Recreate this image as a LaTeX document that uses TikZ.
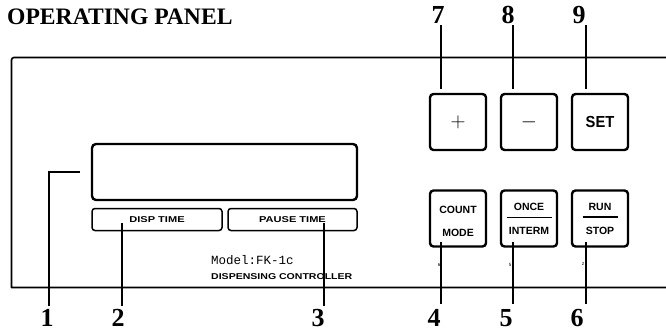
\documentclass[tikz,border=0pt]{standalone}
\usepackage{fontspec}
\setmainfont{Liberation Serif}
\setsansfont{Liberation Sans}
\newfontfamily\monofont{Liberation Mono}
\begin{document}
\begin{tikzpicture}[x=1pt,y=-1pt,
  panel/.style={line width=1.6pt,line join=round},
  leader/.style={line width=1.8pt},
  keybox/.style={draw,line width=2.4pt,rounded corners=3.5pt,minimum width=56pt,minimum height=56pt,inner sep=0pt},
  tabbox/.style={draw,line width=1.5pt,rounded corners=3pt,minimum height=22pt,inner sep=0pt},
  keytext/.style={font=\sffamily\bfseries\fontsize{10.5}{12}\selectfont,align=center},
  tabtext/.style={font=\sffamily\bfseries\fontsize{8.5}{9}\selectfont},
  digit/.style={font=\bfseries\fontsize{26}{26}\selectfont,anchor=base,inner sep=0pt},
  tiny/.style={font=\sffamily\fontsize{4.5}{5}\selectfont,inner sep=0pt}]
\useasboundingbox (0,0) rectangle (666,331);

% title
\node[anchor=base west,inner sep=0pt,font=\bfseries\fontsize{23.6}{24}\selectfont] (title) at (7,25) {OPERATING PANEL};

% panel outline
\draw[panel] (666,57.5) -- (14,57.5) to[out=180,in=90] (11.5,60) -- (11.5,287.5) -- (666,287.5);

% display and tabs
\node[draw,line width=2.4pt,rounded corners=4pt,minimum width=265pt,minimum height=56pt,inner sep=0pt] (disp) at (224.5,172) {};
\node[tabbox,minimum width=130pt,tabtext] (dtime) at (157,219.5) {\scalebox{1.3}[1]{DISP TIME}};
\node[tabbox,minimum width=129pt,tabtext] (ptime) at (292.5,219.5) {\scalebox{1.3}[1]{PAUSE TIME}};

% model text
\node[anchor=west,inner sep=0pt,font=\monofont\fontsize{12.5}{13}\selectfont] (model) at (211,260) {Model:FK-1c};
\node[anchor=west,inner sep=0pt,font=\sffamily\bfseries\fontsize{8.5}{9}\selectfont] (ctrl) at (211,277) {\scalebox{1.24}[1]{DISPENSING CONTROLLER}};

% keys row 1
\node[keybox] (kplus) at (458,122) {\fontsize{22}{22}\selectfont$+$};
\node[keybox] (kminus) at (529,122) {\fontsize{22}{22}\selectfont$-$};
\node[keybox,font=\sffamily\bfseries\fontsize{16}{16}\selectfont] (kset) at (600,122) {\scalebox{0.92}[1]{SET}};

% keys row 2
\node[keybox,keytext] (kcount) at (458,218.5) {\rule{0pt}{13pt}COUNT\\[11pt]MODE};
\node[keybox,keytext] (konce) at (529,218.5) {ONCE\\\rule[4.5pt]{45pt}{1.1pt}\\INTERM};
\node[keybox,keytext] (krun) at (600,218.5) {RUN\\\rule[4.5pt]{35pt}{1.1pt}\\STOP};

% tiny printed marks
\node[tiny] (m6) at (439,265) {6};
\node[tiny] (m5) at (510,265) {5};
\node[tiny] (m2) at (583,264) {2};

% callout numbers
\node[digit] (n1) at (47,326.5) {1};
\node[digit] (n2) at (118,326.5) {2};
\node[digit] (n3) at (318,326.5) {3};
\node[digit] (n4) at (434,326.5) {4};
\node[digit] (n5) at (506,326.5) {5};
\node[digit] (n6) at (577,326.5) {6};
\node[digit] (n7) at (438,23.5) {7};
\node[digit] (n8) at (508,23.5) {8};
\node[digit] (n9) at (579,23.5) {9};

% leader end points
\coordinate (e1) at (80,172);
\coordinate (k1) at (49,172);
\coordinate (e2) at (122,223);
\coordinate (e3) at (324,223);
\coordinate (e4) at (441,242);
\coordinate (e5) at (513,242);
\coordinate (e6) at (586,242);
\coordinate (e7) at (441,89);
\coordinate (e8) at (513,89);
\coordinate (e9) at (586,89);

\draw[leader] (e1) -- (k1) -- (k1 |- 0,306);
\draw[leader] (e2) -- (e2 |- 0,306);
\draw[leader] (e3) -- (e3 |- 0,306);
\draw[leader] (e4) -- (e4 |- 0,304);
\draw[leader] (e5) -- (e5 |- 0,304);
\draw[leader] (e6) -- (e6 |- 0,304);
\draw[leader] (e7) -- (e7 |- 0,25);
\draw[leader] (e8) -- (e8 |- 0,25);
\draw[leader] (e9) -- (e9 |- 0,25);
\end{tikzpicture}
\end{document}
